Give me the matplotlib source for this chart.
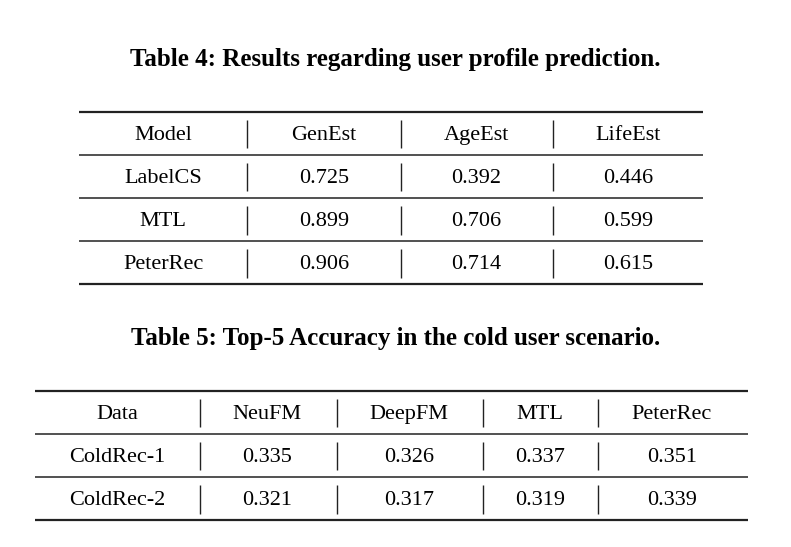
import matplotlib
matplotlib.use("Agg")
import matplotlib.pyplot as plt

# ---- data ----
t4_title_num = "Table 4:"
t4_title_txt = "Results regarding user profile prediction."
t4_columns = ["Model", "GenEst", "AgeEst", "LifeEst"]
t4_models = ["LabelCS", "MTL", "PeterRec"]
t4_genest = ["0.725", "0.899", "0.906"]
t4_ageest = ["0.392", "0.706", "0.714"]
t4_lifeest = ["0.446", "0.599", "0.615"]

t5_title_num = "Table 5:"
t5_title_txt = "Top-5 Accuracy in the cold user scenario."
t5_columns = ["Data", "NeuFM", "DeepFM", "MTL", "PeterRec"]
t5_data = ["ColdRec-1", "ColdRec-2"]
t5_neufm = ["0.335", "0.321"]
t5_deepfm = ["0.326", "0.317"]
t5_mtl = ["0.337", "0.319"]
t5_peterrec = ["0.351", "0.339"]

W, H = 791, 547
fig = plt.figure(figsize=(W / 100, H / 100), dpi=100)
ax = fig.add_axes([0, 0, 1, 1])
ax.set_xlim(0, W)
ax.set_ylim(H, 0)
ax.axis("off")

FONT = "Liberation Serif"
FS = 16
TFS = 18
LC = "#222222"


def draw_table(title_num, title_txt, title_y, x0, x1, col_centers, seps, top, row_h, rows):
    full = title_num + " " + title_txt
    ax.text(W / 2, title_y, full, ha="center", va="center",
            fontsize=TFS, fontweight="bold", family=FONT, color="black")
    n = len(rows)
    ys = [top + row_h * i for i in range(n + 1)]
    for i, y in enumerate(ys):
        lw = 1.6 if i in (0, n) else 1.1
        ax.plot([x0, x1], [y, y], color=LC, lw=lw, solid_capstyle="butt")
    for r, row in enumerate(rows):
        cy = (ys[r] + ys[r + 1]) / 2
        for c, val in enumerate(row):
            ax.text(col_centers[c], cy + 2.0, val, ha="center", va="center",
                    fontsize=FS, family=FONT, color="black")
        for sx in seps:
            ax.plot([sx, sx], [cy - 13.5, cy + 15], color=LC, lw=1.0, solid_capstyle="butt")


rows4 = [t4_columns] + [list(r) for r in zip(t4_models, t4_genest, t4_ageest, t4_lifeest)]
draw_table(t4_title_num, t4_title_txt, 59.5, 79, 703, [163, 324, 476, 628], [246.5, 401, 553],
           111.5, 43.2, rows4)

rows5 = [t5_columns] + [list(r) for r in zip(t5_data, t5_neufm, t5_deepfm, t5_mtl, t5_peterrec)]
draw_table(t5_title_num, t5_title_txt, 338.5, 35, 748, [117, 267, 409, 540, 672], [200, 337, 483, 598],
           390.5, 43.2, rows5)

fig.savefig("out.png", dpi=100, facecolor="white")
